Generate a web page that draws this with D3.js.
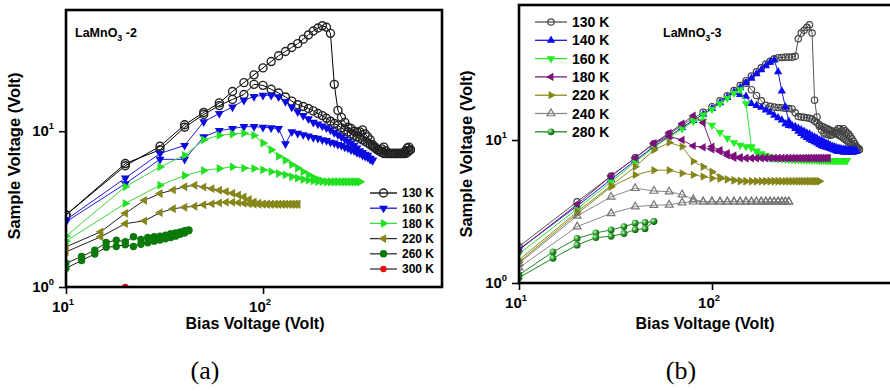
<!DOCTYPE html>
<html><head><meta charset="utf-8">
<script src="https://cdn.jsdelivr.net/npm/d3@7"></script>
<style>body{margin:0;background:#fff}svg{display:block}</style>
</head><body>
<svg id="c" width="890" height="391"></svg>
<script>
// ================= DATA =================
// Panel (a) LaMnO3-2 : bias grids (V)
const gridA10 = [10,20,30,40,50,60,70,80,90,100,110,120,130,140,150,160,170,180,190,200,210,220,230,240,250,260,270,280,290,300,310,320,330,340,350,360,370,380,390,400,410,420,430,440,450,460,470,480,490,500,510,520,530,540,550,560];
const gridA5 = [10,15,20,25,30,35,40,45,50,55,60,65,70,75,80,85,90,95,100,105,110,115,120,125,130,135,140,145,150];
const gridA2 = [10,12,14,16,18,20,22,24,26,28,30,32,34,36,38,40,42];
// sample voltage (V), up-sweep and down-sweep, ascending bias
const a130F = [2.9,6.0,8.0,11.0,13.2,15.2,18.0,20.5,23.0,25.5,28.0,30.5,32.5,34.5,36.5,39.0,41.5,44.0,46.0,47.5,46.5,42.5,20.0,13.6,12.3,11.4,10.6,10.4,10.0,9.9,9.9,10.2,9.6,9.2,8.8,8.2,7.9,7.6,7.55,7.7,7.9,7.5,7.2,7.2,7.2,7.2,7.2,7.2,7.2,7.2,7.2,7.3,7.5,7.8,7.9,7.6];
const a130R = [2.9,6.2,7.6,10.6,12.8,14.6,16.0,17.2,20.0,19.7,18.6,17.6,16.6,15.6,14.8,14.4,14.0,13.5,13.0,12.6,12.1,11.6,11.2,10.9,10.5,10.2,9.9,9.6,9.4,9.2,9.0,8.8,8.6,8.4,8.2,8.0,7.8,7.6,7.45,7.3,7.2,7.2,7.2,7.2,7.2,7.2,7.2,7.2,7.2,7.2,7.2,7.2,7.2,7.3,7.5,7.6];
const a160F = [2.7,5.0,7.2,8.1,11.5,13.0,14.3,15.8,16.7,17.0,17.0,16.6,15.5,14.3,13.3,12.6,12.0,11.4,11.1,10.8,10.5,10.2,9.8,9.5,9.2,8.9,8.6,8.4,8.1,7.8,7.5,7.3,7.1,7.0,6.7,6.5];
const a160R = [2.62,4.6,6.6,6.6,9.2,10.1,10.4,10.7,10.7,10.6,10.5,10.4,8.3,9.9,9.7,9.5,9.3,9.1,9.0,8.8,8.7,8.5,8.4,8.2,8.1,7.9,7.8,7.6,7.5,7.3,7.2,7.0,6.9,6.8,6.6,6.5];
const a180F = [2.12,4.4,5.9,7.0,8.8,9.4,9.6,9.7,9.4,8.4,7.6,6.9,6.5,6.1,5.8,5.5,5.25,5.05,4.9,4.8,4.75,4.75,4.75,4.75,4.75,4.75,4.75,4.75,4.75,4.75,4.75];
const a180R = [1.97,3.44,4.5,5.2,5.6,5.76,5.9,5.8,5.76,5.65,5.5,5.35,5.25,5.1,5.0,4.9,4.85,4.8,4.75,4.75,4.72,4.72,4.72,4.72,4.72,4.72,4.72,4.72,4.72,4.72,4.72];
const a220F = [1.81,2.26,2.97,3.6,3.98,4.2,4.4,4.5,4.38,4.28,4.18,4.1,4.0,3.9,3.78,3.65,3.52,3.45,3.42,3.4,3.4,3.4,3.4,3.4,3.4,3.4,3.4,3.4,3.4];
const a220R = [1.68,2.1,2.55,2.66,3.0,3.18,3.25,3.3,3.37,3.42,3.47,3.5,3.5,3.48,3.45,3.42,3.4,3.4,3.4,3.4,3.4,3.4,3.4,3.4,3.4,3.4,3.4,3.4,3.4];
const a260F = [1.42,1.57,1.72,1.93,2.0,1.95,2.1,2.02,2.08,2.1,2.12,2.15,2.2,2.22,2.26,2.3,2.32];
const a260R = [1.32,1.48,1.63,1.8,1.82,1.87,1.82,1.88,1.92,1.97,2.0,2.04,2.08,2.12,2.18,2.22,2.3];
const a300Bias = [20];
const a300F = [1.0];

// Panel (b) LaMnO3-3
const gridB10 = [10,20,30,40,50,60,70,80,90,100,110,120,130,140,150,160,170,180,190,200,210,220,230,240,250,260,270,280,290,300,310,320,330,340,350,360,370,380,390,400,410,420,430,440,450,460,470,480,490,500,510,520,530,540,550,560,570,580,590,600];
const gridB5 = [10,15,20,25,30,35,40,45,50];
const b130F = [1.8,3.7,5.6,7.5,9.4,11.0,12.7,14.2,15.6,17.1,18.8,20.4,22.2,24.0,26.0,28.0,30.0,32.0,34.0,35.5,37.0,37.6,37.8,38.0,38.0,38.0,38.5,51.0,56.0,58.5,61.5,64.0,56.0,19.0,14.5,12.5,11.7,11.2,11.0,10.9,10.8,10.9,11.2,11.6,12.0,12.0,11.6,12.0,11.6,11.3,11.0,10.6,10.2,9.8,9.4,9.0,8.8,8.6];
const b130RStart = 150;
const b130R = [25.0,22.5,20.5,18.8,17.5,17.2,17.0,16.9,16.8,16.7,16.6,16.5,15.5,14.6,14.5,14.4,14.3,14.2,14.0,13.6,13.2,12.8,12.5,12.3,12.1,11.9,11.7,11.5,11.3,11.1,10.9,10.7,10.5,10.3,10.1,9.9,9.7,9.5,9.3,9.1,8.9,8.8,8.7,8.6];
const b140F = [1.72,3.45,5.3,7.2,9.0,10.6,12.2,13.7,15.1,16.6,18.2,19.8,21.5,23.3,25.1,27.0,29.0,31.0,33.0,35.0,36.3,30.0,22.0,17.0,13.5,12.6,12.0,11.5,11.1,10.7,10.4,10.1,9.9,9.7,9.5,9.3,9.1,9.0,8.9,8.8,8.7,8.6,8.5,8.4,8.3,8.3,8.3,8.2,8.2,8.2,8.2,8.2,8.2,8.2,8.3,8.3];
const b140RStart = 130;
const b140R = [21.5,20.8,20.2,18.0,17.4,16.9,16.2,15.6,14.9,14.3,13.8,13.0,12.6,12.5,12.4,12.1,11.8,11.5,11.2,11.0,10.7,10.5,10.3,10.0,9.9,9.7,9.5,9.4,9.2,9.05,8.95,8.85,8.75,8.7,8.65,8.6,8.6,8.55,8.5,8.5,8.5,8.45,8.45,8.4];
const b160F = [1.6,3.3,5.1,7.0,8.9,10.5,12.0,13.5,15.0,16.4,18.0,19.6,21.3,22.5,18.0,9.0,8.4,8.0,7.7,7.5,7.45,7.4,7.4,7.35,7.35,7.3,7.3,7.3,7.3,7.3,7.25,7.25,7.25,7.25,7.25,7.2,7.2,7.2,7.2,7.2,7.2,7.2,7.2,7.2,7.2,7.2,7.2,7.2,7.2,7.2];
const b160RStart = 80;
const b160R = [13.9,13.6,12.7,11.3,10.3,9.6,9.2,9.0,8.8,8.3,8.0,7.8,7.6,7.5,7.45,7.4,7.4,7.35,7.35,7.3,7.3,7.3,7.3,7.3,7.3,7.3,7.25,7.25,7.25,7.25,7.25,7.25,7.2,7.2,7.2,7.2,7.2,7.2,7.2,7.2,7.2,7.2,7.2];
const b180F = [1.7,3.55,5.6,7.5,9.5,11.2,13.0,14.8,13.2,9.0,8.5,8.1,7.8,7.6,7.5,7.5,7.5,7.5,7.5,7.5,7.5,7.5,7.5,7.5,7.5,7.5,7.5,7.5,7.5,7.5,7.5,7.5,7.5,7.5,7.5,7.5,7.5,7.5,7.5,7.5];
const b180RStart = 50;
const b180R = [9.4,10.6,10.0,9.1,8.9,8.6,8.3,7.8,7.5,7.45,7.45,7.45,7.45,7.45,7.45,7.45,7.45,7.45,7.45,7.45,7.45,7.45,7.45,7.45,7.45,7.45,7.45,7.45,7.45,7.45,7.45,7.45,7.45,7.45,7.45,7.45];
const b220F = [1.45,3.15,4.8,6.5,8.5,9.6,9.0,7.1,6.5,6.0,5.5,5.3,5.2,5.15,5.15,5.15,5.15,5.15,5.15,5.15,5.15,5.15,5.15,5.15,5.15,5.15,5.15,5.15,5.15,5.15,5.15,5.15,5.15,5.15,5.15,5.15];
const b220R = [1.4,3.05,4.7,5.7,6.15,6.15,5.85,5.7,5.55,5.4,5.35,5.3,5.25,5.2,5.15,5.15,5.15,5.15,5.15,5.15,5.15,5.15,5.15,5.15,5.15,5.15,5.15,5.15,5.15,5.15,5.15,5.15,5.15,5.15,5.15,5.15];
const b240F = [1.37,2.95,4.0,4.6,4.4,4.35,4.15,3.85,3.7,3.7,3.7,3.7,3.7,3.7,3.7,3.7,3.7,3.7,3.7,3.7,3.7,3.7,3.7,3.7,3.7];
const b240R = [1.28,2.48,3.07,3.42,3.5,3.52,3.65,3.7,3.7,3.7,3.7,3.7,3.7,3.7,3.7,3.7,3.7,3.7,3.7,3.7,3.7,3.7,3.7,3.7,3.7];
const b280F = [1.14,1.65,2.05,2.24,2.35,2.48,2.62,2.65,2.7];
const b280R = [1.09,1.49,1.84,2.08,2.12,2.22,2.36,2.4,2.7];

const legendA = ["130 K","160 K","180 K","220 K","260 K","300 K"];
const legendB = ["130 K","140 K","160 K","180 K","220 K","240 K","280 K"];
const xMajorA = [10,100], xMinorA = [20,30,40,50,60,70,80,90,200,300,400,500,600,700,800];
const yMajorA = [1,10],   yMinorA = [2,3,4,5,6,7,8,9,20,30,40,50];
const xMajorB = [10,100], xMinorB = [20,30,40,50,60,70,80,90,200,300,400,500,600,700,800,900];
const yMajorB = [1,10],   yMinorB = [2,3,4,5,6,7,8,9,20,30,40,50,60,70,80];

// ================= DRAW =================
const FONT = "'Liberation Sans', Arial, Helvetica, sans-serif";
const svg = d3.select("#c");
svg.append("rect").attr("width",890).attr("height",391).attr("fill","#fff");
const defs = svg.append("defs");
const rg = defs.append("radialGradient").attr("id","sph").attr("cx","35%").attr("cy","35%").attr("r","65%");
rg.append("stop").attr("offset","0%").attr("stop-color","#d8f8d8");
rg.append("stop").attr("offset","45%").attr("stop-color","#3aaa3a");
rg.append("stop").attr("offset","100%").attr("stop-color","#0b5e0b");

function zip(bias, vals, startX) {
  const s = startX === undefined ? 0 : bias.indexOf(startX);
  const out = [];
  for (let i = 0; i < vals.length && i + s < bias.length; i++) out.push([bias[i + s], vals[i]]);
  return out;
}

function drawMarker(g, m, px, py) {
  if (m.shape === "circle") {
    g.append("circle").attr("cx", px).attr("cy", py).attr("r", m.r)
      .attr("fill", m.fill).attr("stroke", m.stroke || "none").attr("stroke-width", m.sw || 0);
  } else {
    const rot = {up: 0, down: 180, left: -90, right: 90}[m.dir];
    g.append("path").attr("d", d3.symbol().type(d3.symbolTriangle).size(m.size)())
      .attr("transform", `translate(${px},${py}) rotate(${rot})`)
      .attr("fill", m.fill).attr("stroke", m.stroke || "none").attr("stroke-width", m.sw || 0);
  }
}

function supLabel(g, x, y, exp, anchor, size) {
  const t = g.append("text").attr("x", x).attr("y", y).attr("text-anchor", anchor)
    .attr("font-family", FONT).attr("font-weight", "bold").attr("font-size", size);
  t.append("tspan").text("10");
  t.append("tspan").attr("dy", -size * 0.45).attr("font-size", size * 0.62).text(exp);
}

function panel(cfg) {
  const {x, y} = cfg;
  const [x0, x1] = x.range(), [y0, y1] = y.range();
  const g = svg.append("g");
  const clipId = "clip" + cfg.id;
  defs.append("clipPath").attr("id", clipId).append("rect")
    .attr("x", x0).attr("y", y1).attr("width", x1 - x0).attr("height", y0 - y1);
  const plot = g.append("g").attr("clip-path", `url(#${clipId})`);
  const line = d3.line().x(d => x(d[0])).y(d => y(d[1]));
  cfg.series.forEach(s => {
    plot.append("path").attr("d", line(s.pts)).attr("fill", "none")
      .attr("stroke", s.lineColor).attr("stroke-width", s.lw || 1);
    const mg = plot.append("g");
    s.pts.forEach(p => drawMarker(mg, s.m, x(p[0]), y(p[1])));
  });
  // axes
  const ax = g.append("g").attr("transform", `translate(0,${y0})`);
  ax.call(d3.axisBottom(x).tickValues(cfg.xMinor).tickSize(4).tickFormat(""));
  ax.call(d3.axisBottom(x).tickValues(cfg.xMajor).tickSize(7).tickFormat(""));
  const ay = g.append("g").attr("transform", `translate(${x0},0)`);
  ay.call(d3.axisLeft(y).tickValues(cfg.yMinor).tickSize(4).tickFormat(""));
  ay.call(d3.axisLeft(y).tickValues(cfg.yMajor).tickSize(7).tickFormat(""));
  g.selectAll(".domain").remove();
  g.selectAll(".tick line").attr("stroke", "#000").attr("stroke-width", 1.6);
  // frame
  g.append("rect").attr("x", x0).attr("y", y1).attr("width", x1 - x0).attr("height", y0 - y1)
    .attr("fill", "none").attr("stroke", "#000").attr("stroke-width", 2.6);
  // tick labels
  cfg.xMajor.forEach(v => supLabel(g, x(v) - 3, y0 + 25, String(Math.round(Math.log10(v))), "middle", 15));
  cfg.yMajor.forEach(v => supLabel(g, x0 - 12, y(v) + 5, String(Math.round(Math.log10(v))), "end", 15));
  // titles
  g.append("text").attr("x", cfg.xTitle[0]).attr("y", cfg.xTitle[1]).attr("text-anchor", "middle")
    .attr("font-family", FONT).attr("font-weight", "bold").attr("font-size", 16).text("Bias Voltage (Volt)");
  g.append("text").attr("transform", `translate(${cfg.yTitle[0]},${cfg.yTitle[1]}) rotate(-90)`)
    .attr("text-anchor", "middle").attr("font-family", FONT).attr("font-weight", "bold")
    .attr("font-size", 16.5).text("Sample Voltage (Volt)");
  // annotation
  const an = g.append("text").attr("x", cfg.ann.x).attr("y", cfg.ann.y).attr("font-family", FONT)
    .attr("font-weight", "bold").attr("font-size", 12.5);
  an.append("tspan").text("LaMnO");
  an.append("tspan").attr("dy", 4).attr("font-size", 9).text("3");
  an.append("tspan").attr("dy", -4).text(cfg.ann.tail);
  // legend
  const L = cfg.legend;
  cfg.series.forEach((s, i) => {
    if (!L.names[i]) return;
    const ly = L.y0 + i * L.dy;
    g.append("line").attr("x1", L.x0).attr("x2", L.x1).attr("y1", ly).attr("y2", ly)
      .attr("stroke", s.legColor || s.lineColor).attr("stroke-width", 1.3);
    drawMarker(g, s.m, (L.x0 + L.x1) / 2, ly);
    g.append("text").attr("x", L.tx).attr("y", ly + L.fs * 0.36).attr("font-family", FONT)
      .attr("font-weight", "bold").attr("font-size", L.fs).text(L.names[i]);
  });
}

// ---- Panel (a)
const xA = d3.scaleLog().domain([10, 810]).range([66, 442]);
const yA = d3.scaleLog().domain([1, 60]).range([287, 10]);
const both = (grid, f, r) => zip(grid, f).concat(zip(grid, r).reverse());
panel({
  id: "A", x: xA, y: yA, xMajor: xMajorA, xMinor: xMinorA, yMajor: yMajorA, yMinor: yMinorA,
  xTitle: [255, 329], yTitle: [20, 156], ann: {x: 75, y: 37, tail: " -2"},
  legend: {names: legendA, x0: 370, x1: 397, tx: 402, y0: 193, dy: 15.2, fs: 12},
  series: [
    {pts: both(gridA10, a130F, a130R), lineColor: "#000", m: {shape: "circle", r: 4, fill: "none", stroke: "#222", sw: 1.4}},
    {pts: both(gridA10, a160F, a160R), lineColor: "#1a1ad8", m: {shape: "tri", dir: "down", size: 34, fill: "#0a0ae0"}},
    {pts: both(gridA10, a180F, a180R), lineColor: "#3ad83a", m: {shape: "tri", dir: "right", size: 34, fill: "#22e022"}},
    {pts: both(gridA5, a220F, a220R), lineColor: "#222", legColor: "#333", m: {shape: "tri", dir: "left", size: 34, fill: "#86861a"}},
    {pts: both(gridA2, a260F, a260R), lineColor: "#222", legColor: "#333", m: {shape: "circle", r: 3.7, fill: "#0b7a0b"}},
    {pts: zip(a300Bias, a300F), lineColor: "#222", legColor: "#333", m: {shape: "circle", r: 3.2, fill: "#e81010"}}
  ]
});

// ---- Panel (b)
const xB = d3.scaleLog().domain([10, 1000]).range([519, 905]);
const yB = d3.scaleLog().domain([1, 88]).range([283, 5]);
const part = (grid, f, r, st) => zip(grid, f).concat(zip(grid, r, st).reverse());
panel({
  id: "B", x: xB, y: yB, xMajor: xMajorB, xMinor: xMinorB, yMajor: yMajorB, yMinor: yMinorB,
  xTitle: [705, 329], yTitle: [472, 154], ann: {x: 663, y: 37, tail: "-3"},
  legend: {names: legendB, x0: 535, x1: 567, tx: 572, y0: 22, dy: 18.3, fs: 14},
  series: [
    {pts: part(gridB10, b130F, b130R, b130RStart), lineColor: "#555", m: {shape: "circle", r: 3.2, fill: "none", stroke: "#444", sw: 1.2}},
    {pts: part(gridB10, b140F, b140R, b140RStart), lineColor: "#1818e0", m: {shape: "tri", dir: "up", size: 30, fill: "#0c0cf0"}},
    {pts: part(gridB10, b160F, b160R, b160RStart), lineColor: "#2ee02e", m: {shape: "tri", dir: "down", size: 30, fill: "#22ee22"}},
    {pts: part(gridB10, b180F, b180R, b180RStart), lineColor: "#7a1f7a", m: {shape: "tri", dir: "left", size: 30, fill: "#7d0f7d"}},
    {pts: part(gridB10, b220F, b220R, 10), lineColor: "#8a8a20", m: {shape: "tri", dir: "right", size: 30, fill: "#85851a"}},
    {pts: part(gridB10, b240F, b240R, 10), lineColor: "#888", m: {shape: "tri", dir: "up", size: 26, fill: "none", stroke: "#777", sw: 1.2}},
    {pts: part(gridB5, b280F, b280R, 10), lineColor: "#1a8a1a", m: {shape: "circle", r: 3.4, fill: "url(#sph)"}}
  ]
});

// captions
svg.append("text").attr("x", 205).attr("y", 379).attr("text-anchor", "middle")
  .attr("font-family", "'Liberation Serif', 'DejaVu Serif', serif").attr("font-size", 26).text("(a)");
svg.append("text").attr("x", 681).attr("y", 379).attr("text-anchor", "middle")
  .attr("font-family", "'Liberation Serif', 'DejaVu Serif', serif").attr("font-size", 26).text("(b)");
</script>
</body></html>
